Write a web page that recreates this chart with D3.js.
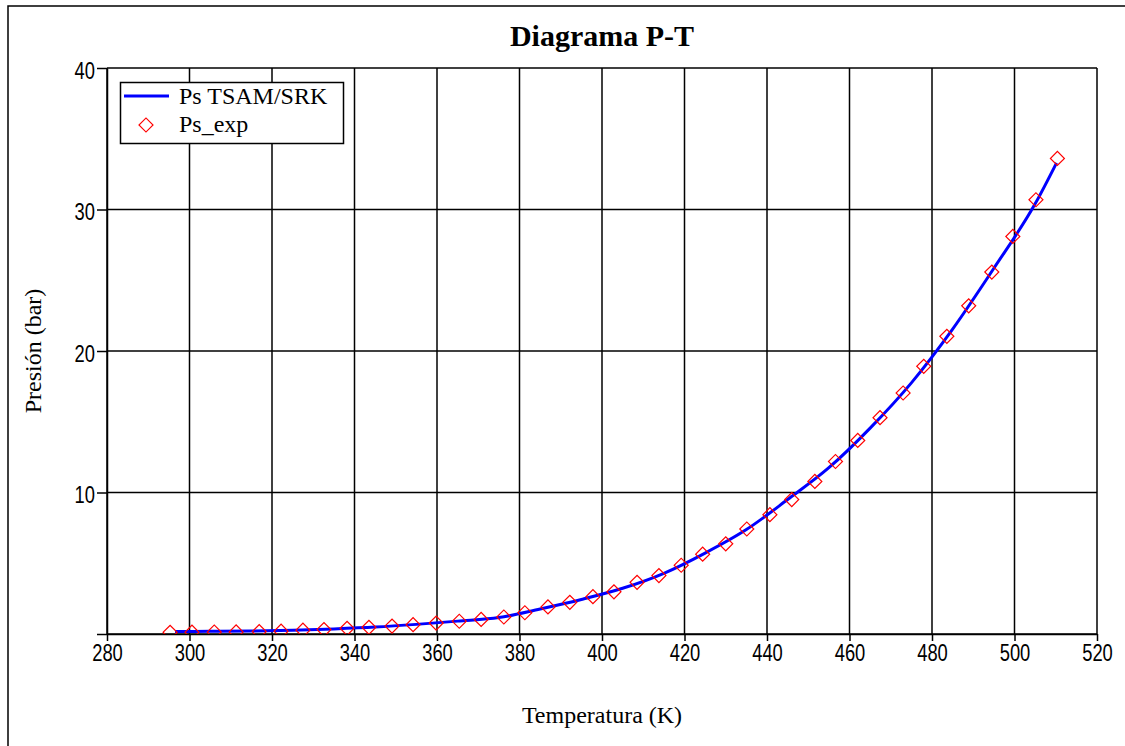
<!DOCTYPE html>
<html>
<head>
<meta charset="utf-8">
<script src="https://cdn.jsdelivr.net/npm/d3@7"></script>
<style>
  html, body { margin: 0; padding: 0; background: #fff; overflow: hidden; }
  svg { display: block; }
  .tick text { font-family: 'Liberation Sans Narrow', 'Liberation Sans', Arial, sans-serif; font-size: 23px; fill: #000; }
  .serif { font-family: 'Liberation Serif', 'Times New Roman', serif; fill: #000; }
</style>
</head>
<body>
<div id="chart"></div>
<script>
// Ps_exp measured points
const expT = [295.3, 300.6, 306.0, 311.3, 316.9, 322.2, 327.5, 332.6, 338.2, 343.5,
  349.1, 354.2, 359.8, 365.4, 370.7, 376.2, 381.3, 386.9, 392.2, 397.8,
  402.9, 408.5, 413.8, 419.2, 424.4, 430.0, 435.1, 440.7, 446.0, 451.6,
  456.6, 462.0, 467.4, 473.0, 478.0, 483.6, 488.9, 494.5, 499.6, 505.2, 510.4];
const expP = [0.12, 0.13, 0.14, 0.15, 0.17, 0.20, 0.27, 0.31, 0.40, 0.47,
  0.56, 0.66, 0.77, 0.90, 1.03, 1.20, 1.50, 1.91, 2.24, 2.64,
  2.98, 3.65, 4.13, 4.86, 5.64, 6.37, 7.42, 8.43, 9.50, 10.78,
  12.19, 13.68, 15.29, 17.03, 18.92, 21.04, 23.19, 25.58, 28.10, 30.69, 33.61];

// Ps TSAM/SRK model curve
const modelT = [296.5, 305, 315, 325, 335, 345, 355, 365, 375, 385, 395, 405,
  415, 425, 435, 445, 455, 465, 475, 485, 495, 505, 510.2];
const modelP = [0.18, 0.19, 0.21, 0.26, 0.36, 0.49, 0.68, 0.91, 1.16, 1.77, 2.44, 3.23,
  4.29, 5.72, 7.38, 9.50, 11.75, 14.55, 17.75, 21.55, 25.85, 30.4, 33.3];

const xTicks = [280, 300, 320, 340, 360, 380, 400, 420, 440, 460, 480, 500, 520];
const yTicks = [0, 10, 20, 30, 40];

const width = 1125, height = 746;
const margin = {top: 68, right: 28, bottom: 112, left: 107};

const svg = d3.select("#chart").append("svg")
  .attr("width", width)
  .attr("height", height);

svg.append("rect").attr("width", width).attr("height", height).attr("fill", "#fff");
// outer frame: only left and top edges are inside the picture
svg.append("path")
  .attr("d", `M8,${height}V6H${width}`)
  .attr("fill", "none").attr("stroke", "#000").attr("stroke-width", 1.5);

const x = d3.scaleLinear().domain([280, 520]).range([margin.left, width - margin.right]);
const y = d3.scaleLinear().domain([0, 40]).range([height - margin.bottom, margin.top]);

svg.append("defs").append("clipPath").attr("id", "clip")
  .append("rect")
  .attr("x", x(280)).attr("y", y(40))
  .attr("width", x(520) - x(280)).attr("height", y(0) - y(40));

// grid
const grid = svg.append("g").attr("stroke", "#000").attr("stroke-width", 1.5);
grid.selectAll(".vg").data(xTicks).join("line")
  .attr("x1", d => x(d)).attr("x2", d => x(d))
  .attr("y1", y(0)).attr("y2", y(40));
grid.selectAll(".hg").data(yTicks).join("line")
  .attr("x1", x(280)).attr("x2", x(520))
  .attr("y1", d => y(d)).attr("y2", d => y(d));

// axes
const xAxis = svg.append("g")
  .attr("transform", `translate(0,${y(0)})`)
  .call(d3.axisBottom(x).tickValues(xTicks).tickSize(7).tickSizeOuter(0).tickPadding(4));
const yAxis = svg.append("g")
  .attr("transform", `translate(${x(280)},0)`)
  .call(d3.axisLeft(y).tickValues(yTicks).tickSize(10).tickSizeOuter(0).tickPadding(2)
    .tickFormat(d => d === 0 ? "" : d));
[xAxis, yAxis].forEach(a => {
  a.select(".domain").attr("stroke", "#000").attr("stroke-width", 1.5);
  a.selectAll(".tick line").attr("stroke", "#000").attr("stroke-width", 1.5);
  a.attr("font-family", null).attr("font-size", null);
  // narrow digits like the original sans font
  a.selectAll(".tick text").each(function() {
    const n = this.textContent.length;
    if (n) d3.select(this).attr("textLength", n * 10.2).attr("lengthAdjust", "spacingAndGlyphs");
  });
});
yAxis.selectAll(".tick text").attr("dy", "0.45em");

const plot = svg.append("g").attr("clip-path", "url(#clip)");

const model = modelT.map((t, i) => [t, modelP[i]]);
plot.append("path")
  .datum(model)
  .attr("fill", "none")
  .attr("stroke", "#0000ff")
  .attr("stroke-width", 3)
  .attr("d", d3.line().x(d => x(d[0])).y(d => y(d[1])).curve(d3.curveMonotoneX));

const diamond = d3.symbol().type(d3.symbolSquare).size(98);
plot.selectAll(".pt").data(expT.map((t, i) => [t, expP[i]])).join("path")
  .attr("d", diamond)
  .attr("transform", d => `translate(${x(d[0])},${y(d[1])}) rotate(45)`)
  .attr("fill", "none")
  .attr("stroke", "#ff0000")
  .attr("stroke-width", 1.2);

// title and labels
svg.append("text").attr("class", "serif")
  .attr("x", (x(280) + x(520)) / 2).attr("y", 46)
  .attr("text-anchor", "middle")
  .attr("font-size", 30).attr("font-weight", "bold")
  .text("Diagrama P-T");

svg.append("text").attr("class", "serif")
  .attr("x", (x(280) + x(520)) / 2).attr("y", 723)
  .attr("text-anchor", "middle")
  .attr("font-size", 24)
  .text("Temperatura (K)");

svg.append("text").attr("class", "serif")
  .attr("transform", `translate(41,${(y(0) + y(40)) / 2}) rotate(-90)`)
  .attr("text-anchor", "middle")
  .attr("font-size", 24)
  .text("Presión (bar)");

// legend
const legend = svg.append("g");
legend.append("rect")
  .attr("x", 120.5).attr("y", 82.5).attr("width", 223).attr("height", 61)
  .attr("fill", "#fff").attr("stroke", "#000").attr("stroke-width", 1.5);
legend.append("line")
  .attr("x1", 124).attr("x2", 169).attr("y1", 96).attr("y2", 96)
  .attr("stroke", "#0000ff").attr("stroke-width", 3);
legend.append("text").attr("class", "serif")
  .attr("x", 179).attr("y", 104).attr("font-size", 24)
  .text("Ps TSAM/SRK");
legend.append("path")
  .attr("d", diamond)
  .attr("transform", "translate(146,125) rotate(45)")
  .attr("fill", "none").attr("stroke", "#ff0000").attr("stroke-width", 1.2);
legend.append("text").attr("class", "serif")
  .attr("x", 179).attr("y", 132).attr("font-size", 24)
  .text("Ps_exp");
</script>
</body>
</html>
